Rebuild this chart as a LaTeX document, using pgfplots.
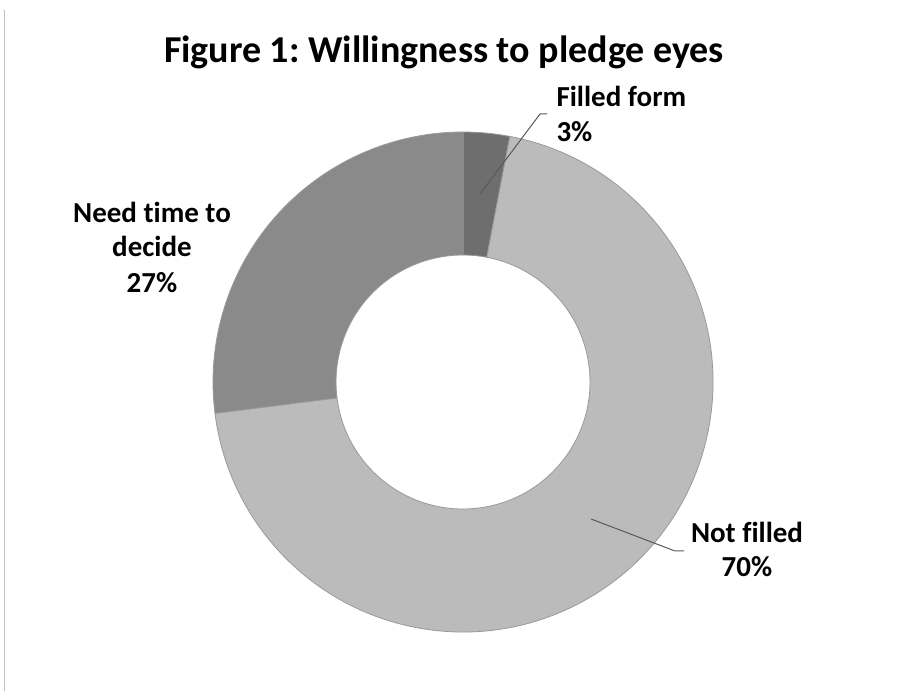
\documentclass[border=0pt]{standalone}
\usepackage{pgfplots}
\pgfplotsset{compat=1.18}
\usepackage{pgfplotstable}
\usepackage{fontspec}
\setmainfont{Carlito}[Ligatures=NoCommon]
\frenchspacing
\definecolor{cFilled}{HTML}{6E6E6E}
\definecolor{cNot}{HTML}{BBBBBB}
\definecolor{cNeed}{HTML}{8A8A8A}
\definecolor{edgecol}{HTML}{9A9A9A}
\definecolor{leader}{HTML}{595959}
\pgfplotstableread[col sep=comma]{
label,value
Filled form,3
Not filled,70
Need time to decide,27
}\donutdata
\newcommand\ringseg[3]{%
  \filldraw[fill=#3, draw=edgecol, line width=0.8bp]
    ([shift={(#1:250bp)}]axis cs:463,309) arc[start angle=#1, end angle=#2, radius=250bp]
    -- ([shift={(#2:127bp)}]axis cs:463,309) arc[start angle=#2, end angle=#1, radius=127bp]
    -- cycle;}
\begin{document}
\begin{tikzpicture}
\pgfplotstablegetelem{0}{value}\of\donutdata \let\va\pgfplotsretval
\pgfplotstablegetelem{1}{value}\of\donutdata \let\vb\pgfplotsretval
\pgfplotstablegetelem{2}{value}\of\donutdata \let\vc\pgfplotsretval
\pgfmathsetmacro\aA{90}
\pgfmathsetmacro\aB{90-3.6*\va}
\pgfmathsetmacro\aC{\aB-3.6*\vb}
\pgfmathsetmacro\aD{\aC-3.6*\vc}
\begin{axis}[
  scale only axis, width=919bp, height=691bp,
  xmin=0, xmax=919, ymin=0, ymax=691,
  hide axis, clip=false,
]
\path[draw=none] (axis cs:0,0) rectangle (axis cs:919,691);
\draw[color=black!25, line width=1bp] (axis cs:4,681) -- (axis cs:4,0);
\ringseg{\aA}{\aB}{cFilled}
\ringseg{\aB}{\aC}{cNot}
\ringseg{\aC}{\aD}{cNeed}
\draw[leader, line width=1bp] (axis cs:480,497) -- (axis cs:540,577) -- (axis cs:547,577);
\draw[leader, line width=1bp] (axis cs:591,172) -- (axis cs:675,140) -- (axis cs:684,140);
\node[anchor=base, font=\fontsize{38bp}{45bp}\selectfont\bfseries] at (axis cs:444,628) {Figure 1: Willingness to pledge eyes};
\begin{scope}[every node/.style={font=\fontsize{29bp}{35bp}\selectfont\bfseries}]
\node[anchor=base west] at (axis cs:553,584) {Filled form};
\node[anchor=base west] at (axis cs:553,549) {3\%};
\node[anchor=base] at (axis cs:747,148) {Not filled};
\node[anchor=base] at (axis cs:747,114) {70\%};
\node[anchor=base] at (axis cs:152,468) {Need time to};
\node[anchor=base] at (axis cs:152,434) {decide};
\node[anchor=base] at (axis cs:152,398) {27\%};
\end{scope}
\end{axis}
\end{tikzpicture}
\end{document}
